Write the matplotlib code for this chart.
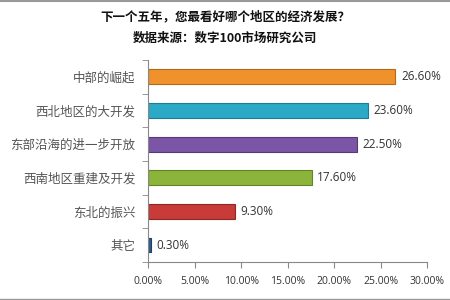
import numpy as np
import matplotlib.pyplot as plt
from matplotlib.lines import Line2D

plt.rcParams['font.family'] = ['Noto Sans CJK SC', 'DejaVu Sans']

categories = ['中部的崛起', '西北地区的大开发', '东部沿海的进一步开放', '西南地区重建及开发', '东北的振兴', '其它']
values = [26.6, 23.6, 22.5, 17.6, 9.3, 0.3]
colors = ['#F0922B', '#2BA9C6', '#7B55A6', '#8CB43A', '#C83B39', '#2C5C92']
edges = ['#B8661A', '#1D7C94', '#553A7A', '#61842A', '#8E2826', '#1E3F66']
xticks = [0, 5, 10, 15, 20, 25, 30]

fig = plt.figure(figsize=(4.5, 3), dpi=100)
ax = fig.add_axes([0.329, 0.127, 0.62, 0.673])

y = np.arange(len(categories))
ax.barh(y, values, height=0.44, color=colors, edgecolor=edges, linewidth=0.8)
for yi, v in zip(y, values):
    ax.text(v + 0.6, yi, f'{v:.2f}%', va='center', ha='left', fontsize=8.5,
            color='#333333', family=['Open Sans', 'DejaVu Sans'])

ax.set_ylim(len(categories) - 0.5, -0.5)
ax.set_xlim(0, 30)
ax.set_yticks(y)
ax.set_yticklabels(categories, fontsize=9, color='#555555')
ax.set_yticks(np.arange(-0.5, len(categories), 1), minor=True)
ax.tick_params(axis='y', which='major', length=0, pad=9)
ax.tick_params(axis='y', which='minor', length=4, color='#888888')
ax.set_xticks(xticks)
ax.set_xticklabels([f'{t:.2f}%' for t in xticks], fontsize=7.5, color='#333333',
                   family=['Open Sans', 'DejaVu Sans'])
ax.tick_params(axis='x', length=4, color='#888888', pad=6)

for s in ['top', 'right']:
    ax.spines[s].set_visible(False)
ax.spines['left'].set_color('#888888')
ax.spines['bottom'].set_color('#888888')

fig.text(0.5, 0.943, '下一个五年，您最看好哪个地区的经济发展？', ha='center', va='center',
         fontsize=9, color='#111111', weight='bold')
fig.text(0.5, 0.873, '数据来源：数字100市场研究公司', ha='center', va='center',
         fontsize=9, color='#111111', weight='bold')

fig.add_artist(Line2D([0, 1], [0.997, 0.997], color='#999999', linewidth=1.5))
fig.add_artist(Line2D([0, 1], [0.005, 0.005], color='#999999', linewidth=1.0))

fig.savefig('out.png', dpi=100)
